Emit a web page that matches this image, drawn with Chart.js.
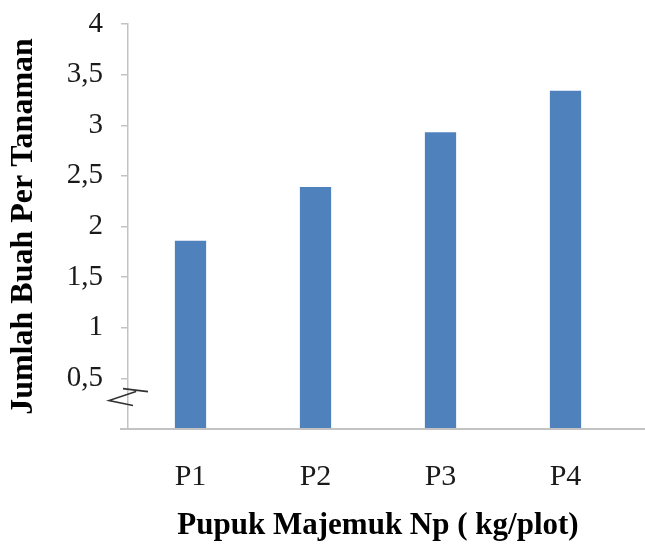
<!DOCTYPE html>
<html>
<head>
<meta charset="utf-8">
<script src="https://cdn.jsdelivr.net/npm/chart.js@4.4.0/dist/chart.umd.min.js"></script>
<style>
  html, body { margin: 0; padding: 0; background: #ffffff; }
  canvas { display: block; }
</style>
</head>
<body>
<canvas id="chart" width="645" height="547"></canvas>
<script>
// Treatment groups and mean fruit count per plant
const categories = ['P1', 'P2', 'P3', 'P4'];
const jumlahBuah = [1.86, 2.39, 2.93, 3.34];

// Value axis range and step
const yMin = 0;
const yMax = 4;
const yStep = 0.5;

const axisColor = '#c3c3c3';
const barColor = '#4f81bd';
const serif = "'Liberation Serif', 'Times New Roman', serif";

// Axis break mark near the base of the value axis, plus the baseline
// running across to the right edge of the canvas
const axisDecor = {
  id: 'axisDecor',
  afterDraw(chart) {
    const { ctx, chartArea } = chart;
    const y = chart.scales.y;
    const base = y.getPixelForValue(0);
    ctx.save();
    ctx.strokeStyle = axisColor;
    ctx.lineWidth = 2;
    ctx.beginPath();
    ctx.moveTo(chartArea.left - 8, base);
    ctx.lineTo(chart.width, base);
    ctx.stroke();

    const cy = y.getPixelForValue(0.33);
    const ax = chartArea.left;
    ctx.strokeStyle = '#333333';
    ctx.lineWidth = 1.6;
    ctx.beginPath();
    ctx.moveTo(ax - 5, cy - 7);
    ctx.lineTo(ax + 20, cy - 4);
    ctx.moveTo(ax + 8, cy - 4);
    ctx.lineTo(ax - 19, cy + 5);
    ctx.lineTo(ax + 5, cy + 10);
    ctx.stroke();
    ctx.restore();
  }
};

new Chart(document.getElementById('chart'), {
  type: 'bar',
  data: {
    labels: categories,
    datasets: [{
      data: jumlahBuah,
      backgroundColor: barColor,
      borderWidth: 0,
      barPercentage: 0.25,
      categoryPercentage: 1.0
    }]
  },
  options: {
    responsive: false,
    animation: false,
    layout: { padding: { top: 24, right: 17, bottom: 0, left: 0 } },
    plugins: {
      legend: { display: false },
      tooltip: { enabled: false }
    },
    scales: {
      x: {
        grid: { display: false, drawTicks: false },
        border: { display: false },
        ticks: {
          color: '#1a1a1a',
          padding: 30,
          font: { family: serif, size: 30 }
        },
        title: {
          display: true,
          text: 'Pupuk Majemuk Np ( kg/plot)',
          color: '#000000',
          font: { family: serif, size: 31, weight: 'bold' },
          padding: { top: 8, bottom: 2 }
        },
        afterFit(scale) { scale.height = 118; }
      },
      y: {
        min: yMin,
        max: yMax,
        grid: {
          drawOnChartArea: false,
          drawTicks: true,
          tickLength: 7,
          color: axisColor,
          lineWidth: 1.5
        },
        border: { display: true, color: axisColor, width: 1.5 },
        ticks: {
          stepSize: yStep,
          color: '#1a1a1a',
          padding: 18,
          font: { family: serif, size: 29 },
          callback: (v) => (v === 0 ? '' : String(v).replace('.', ','))
        },
        title: {
          display: true,
          text: 'Jumlah Buah Per Tanaman',
          color: '#000000',
          font: { family: serif, size: 32, weight: 'bold' },
          padding: { top: 5, bottom: 2 }
        },
        afterFit(scale) {
          scale.width = 128;
          scale.paddingTop = 0;
          scale.paddingBottom = 0;
        }
      }
    }
  },
  plugins: [axisDecor]
});
</script>
</body>
</html>
